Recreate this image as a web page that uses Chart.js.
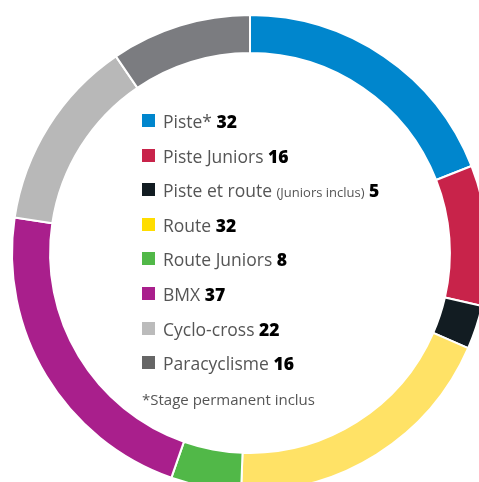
<!DOCTYPE html>
<html>
<head>
<meta charset="utf-8">
<script src="https://cdn.jsdelivr.net/npm/chart.js@4"></script>
<style>
  html, body { margin: 0; padding: 0; background: #fff; }
  #wrap { position: relative; width: 479px; height: 482px; overflow: hidden; }
  #chartBox { position: absolute; left: 0; top: 0; width: 500px; height: 506px; }
  #legend { position: absolute; left: 142px; top: 111px; font-family: "Open Sans", sans-serif; color: #555; }
  .row { position: absolute; left: 0; height: 20px; white-space: nowrap; font-size: 17.5px; line-height: 20px; }
  .sw { position: absolute; left: 0; top: 3px; width: 13px; height: 13px; }
  .txt { position: absolute; left: 21px; top: 0; }
  .txt b { color: #000; font-weight: 800; }
  .note { font-size: 13px; }
  #foot { position: absolute; left: 0; white-space: nowrap; font-size: 15px; color: #555; }
</style>
</head>
<body>
<div id="wrap">
  <div id="chartBox"><canvas id="c" width="500" height="506"></canvas></div>
  <div id="legend"></div>
</div>
<script>
const categories = ["Piste*", "Piste Juniors", "Piste et route", "Route", "Route Juniors", "BMX", "Cyclo-cross", "Paracyclisme"];
const notes = ["", "", "(Juniors inclus)", "", "", "", "", ""];
const values = [32, 16, 5, 32, 8, 37, 22, 16];
const ringColors = ["#0086CD", "#C8234A", "#121C22", "#FFE266", "#51B848", "#A91F8C", "#B8B8B8", "#7B7C80"];
const legendColors = ["#0086CD", "#C8234A", "#121C22", "#FFDD00", "#51B848", "#A91F8C", "#BBBBBB", "#666666"];
const footnote = "*Stage permanent inclus";

new Chart(document.getElementById('c'), {
  type: 'doughnut',
  data: {
    labels: categories,
    datasets: [{
      data: values,
      backgroundColor: ringColors,
      borderColor: '#ffffff',
      borderWidth: 2,
      hoverOffset: 0
    }]
  },
  options: {
    responsive: false,
    animation: false,
    cutout: '84%',
    layout: { padding: 11 },
    plugins: { legend: { display: false }, tooltip: { enabled: false } }
  }
});

const legend = document.getElementById('legend');
const step = 34.6;
categories.forEach((cat, i) => {
  const row = document.createElement('div');
  row.className = 'row';
  row.style.top = (i * step) + 'px';
  const sw = document.createElement('div');
  sw.className = 'sw';
  sw.style.background = legendColors[i];
  const t = document.createElement('div');
  t.className = 'txt';
  t.innerHTML = cat + ' ' + (notes[i] ? '<span class="note">' + notes[i] + '</span> ' : '') + '<b>' + values[i] + '</b>';
  row.appendChild(sw);
  row.appendChild(t);
  legend.appendChild(row);
});
const f = document.createElement('div');
f.id = 'foot';
f.style.top = (8 * step + 1) + 'px';
f.textContent = footnote;
legend.appendChild(f);
</script>
</body>
</html>
